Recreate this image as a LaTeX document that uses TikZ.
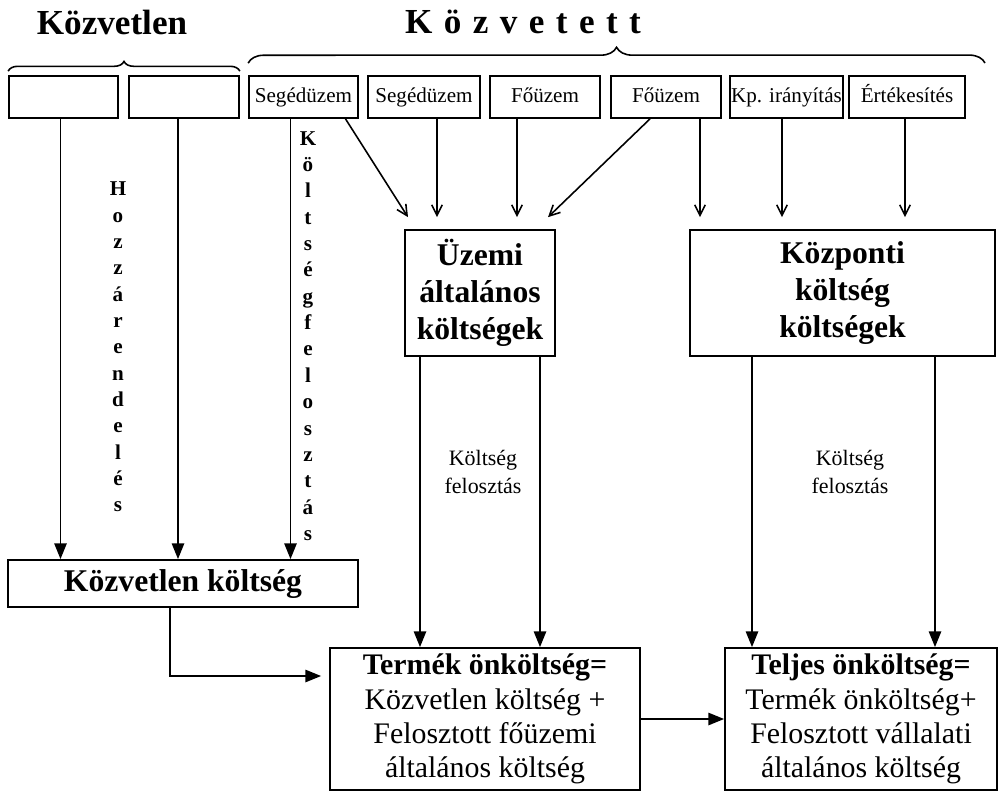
\documentclass[tikz,border=0pt]{standalone}
\usepackage{fontspec}
\setmainfont{Liberation Serif}
\usetikzlibrary{arrows.meta,calc,decorations.pathreplacing}

\tikzset{
  box/.style={draw, line width=1pt, inner sep=1pt, align=center},
  src/.style={box, minimum height=0.84cm, inner sep=0pt, text height=1.6ex, text depth=0.3ex, font=\fontsize{12}{14}\selectfont},
  sum/.style={box, font=\fontsize{17}{19.5}\selectfont},
  arr/.style={line width=1.1pt, -{Triangle[length=9pt,width=7pt]}},
  thinarr/.style={line width=0.9pt, -{Straight Barb[length=6pt,width=6pt]}},
  letters/.style={align=center, font=\bfseries\fontsize{12}{15}\selectfont},
  brc/.style={decorate, line width=0.9pt}
}

\begin{document}
\begin{tikzpicture}[x=0.02cm,y=-0.02cm]
\useasboundingbox (0,0) rectangle (1000,795);

% headings
\node[font=\bfseries\fontsize{20}{24}\selectfont] (tdir) at (112,22) {Közvetlen};
\node[font=\bfseries\fontsize{20}{24}\selectfont] (tind) at (523,22) {\spaceskip=6.5pt K ö z v e t e t t};

% cost sources
\node[src, minimum width=2.18cm] (b1) at (63.5,97) {};
\node[src, minimum width=2.2cm] (b2) at (184,97) {};
\node[src, minimum width=2.18cm] (seg1) at (303.5,97) {Segédüzem};
\node[src, minimum width=2.24cm] (seg2) at (424,97) {Segédüzem};
\node[src, minimum width=2.2cm] (fo1) at (545,97) {Főüzem};
\node[src, minimum width=2.2cm] (fo2) at (666,97) {Főüzem};
\node[src, minimum width=2.26cm] (kp) at (786.5,97) {Kp. irányítás};
\node[src, minimum width=2.32cm] (ert) at (907,97) {Értékesítés};

% braces
\coordinate (kzend) at (985,63);
\draw[brc, decoration={brace, amplitude=5.5pt}] ($(b1.north west)+(0,-4)$) -- ($(b2.north east)+(0,-4)$);
\draw[brc, decoration={brace, amplitude=9pt}] ($(seg1.north west)+(0,-12)$) -- (kzend);

% cost pools
\node[box, font=\bfseries\fontsize{18}{21}\selectfont, minimum width=3cm, minimum height=2.52cm] (uz) at (480,293) {Üzemi\\általános\\költségek};
\node[box, font=\bfseries\fontsize{18}{21}\selectfont, minimum width=6.1cm, minimum height=2.52cm] (kpk) at (842.5,293) {Központi\\költség\\költségek};
\node[box, font=\bfseries\fontsize{18}{21}\selectfont, minimum width=7cm, minimum height=0.94cm] (kk) at (183,583.5) {Közvetlen költség};

% results
\node[sum, minimum width=6.2cm, minimum height=2.84cm] (tk) at (485,719) {\textbf{Termék önköltség=}\\Közvetlen költség +\\Felosztott főüzemi\\általános költség};
\node[sum, minimum width=5.44cm, minimum height=2.84cm] (tj) at (861,719) {\textbf{Teljes önköltség=}\\Termék önköltség+\\Felosztott vállalati\\általános költség};

% vertical labels
\node[letters] (hozz) at (118,347) {H\\o\\z\\z\\á\\r\\e\\n\\d\\e\\l\\é\\s};
\node[letters] (kfel) at (308,336) {K\\ö\\l\\t\\s\\é\\g\\f\\e\\l\\o\\s\\z\\t\\á\\s};
\node[align=center, font=\fontsize{12.5}{16}\selectfont] (fel1) at (483,472) {Költség\\felosztás};
\node[align=center, font=\fontsize{12.5}{16}\selectfont] (fel2) at (850,472) {Költség\\felosztás};

% direct costs
\draw[arr] ($(b1.south)+(-3,0)$) -- ($(b1.south |- kk.north)+(-3,0)$);
\draw[arr] ($(b2.south)+(-6,0)$) -- ($(b2.south |- kk.north)+(-6,0)$);
\draw[arr] ($(seg1.south)+(-13,0)$) -- ($(seg1.south |- kk.north)+(-13,0)$);

% into the cost pools
\draw[thinarr] ($(seg1.south)+(42,0)$) -- ($(uz.north)+(-72,-12)$);
\draw[thinarr] ($(seg2.south)+(13,0)$) -- ($(uz.north)+(-43,-12)$);
\draw[thinarr] ($(fo1.south)+(-28,0)$) -- ($(uz.north)+(37,-12)$);
\draw[thinarr] ($(fo2.south)+(-16,0)$) -- ($(uz.north)+(68,-12)$);
\draw[thinarr] ($(fo2.south)+(34,0)$) -- ($(kpk.north)+(-142.5,-12)$);
\draw[thinarr] ($(kp.south)+(-4.5,0)$) -- ($(kpk.north)+(-60.5,-12)$);
\draw[thinarr] ($(ert.south)+(-2,0)$) -- ($(kpk.north)+(62.5,-12)$);

% allocation
\draw[arr] ($(uz.south)+(-60,0)$) -- ($(tk.north)+(-65,0)$);
\draw[arr] ($(uz.south)+(60,0)$) -- ($(tk.north)+(55,0)$);
\draw[arr] ($(kpk.south)+(-90.5,0)$) -- ($(tj.north)+(-109,0)$);
\draw[arr] ($(kpk.south)+(92.5,0)$) -- ($(tj.north)+(74,0)$);

% totals
\draw[arr] ($(kk.south)+(-13,0)$) |- ($(tk.west)+(-8,-43)$);
\draw[arr] (tk.east) -- (tj.west);
\end{tikzpicture}
\end{document}
